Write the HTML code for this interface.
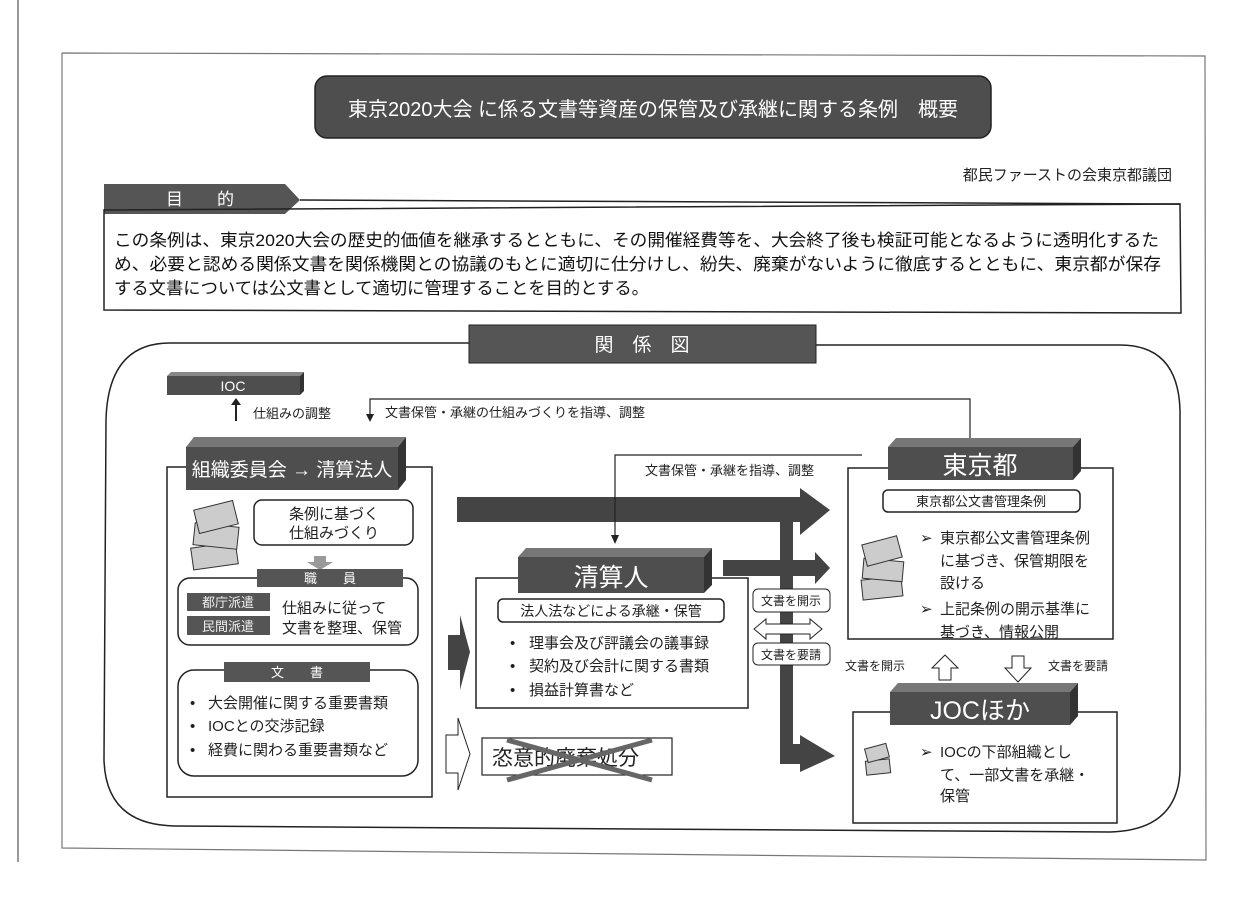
<!DOCTYPE html>
<html><head><meta charset="utf-8"><style>
body{margin:0;background:#fff;}
svg{display:block;font-family:"Liberation Sans","Noto Sans CJK JP",sans-serif;}
</style></head><body>
<svg width="1240" height="904" viewBox="0 0 1240 904" xmlns="http://www.w3.org/2000/svg">
<rect width="1240" height="904" fill="#fff"/>
<line x1="18" y1="0" x2="18" y2="862" stroke="#999" stroke-width="2"/>
<polyline points="62,53 1205,56 1206,860 62,848 62,53" fill="none" stroke="#777" stroke-width="1.2"/>
<rect x="315" y="76" width="676" height="62" rx="12" fill="#4e4e4e" stroke="#222" stroke-width="1.5"/>
<text x="653" y="116" font-size="20" fill="#fff" text-anchor="middle">東京2020大会 に係る文書等資産の保管及び承継に関する条例　概要</text>
<text x="1172" y="180" font-size="15" fill="#222" text-anchor="end">都民ファーストの会東京都議団</text>
<polygon points="104,184 285,184 300,200 285,214 104,214" fill="#555"/>
<text x="200" y="205" font-size="17" fill="#fff" text-anchor="middle">目　　的</text>
<line x1="300" y1="200" x2="1180" y2="204" stroke="#222" stroke-width="1.5"/>
<polygon points="104,210 1180,204 1181,313 104,310" fill="none" stroke="#222" stroke-width="1.5"/>
<text x="114" y="246" font-size="17" fill="#111" textLength="1045" lengthAdjust="spacingAndGlyphs">この条例は、東京2020大会の歴史的価値を継承するとともに、その開催経費等を、大会終了後も検証可能となるように透明化するた</text>
<text x="114" y="270" font-size="17" fill="#111" textLength="1047" lengthAdjust="spacingAndGlyphs">め、必要と認める関係文書を関係機関との協議のもとに適切に仕分けし、紛失、廃棄がないように徹底するとともに、東京都が保存</text>
<text x="114" y="294" font-size="17" fill="#111" textLength="535" lengthAdjust="spacingAndGlyphs">する文書については公文書として適切に管理することを目的とする。</text>
<path d="M470,343 L170,343 Q108,343 106,420 L104,760 Q106,825 175,826 L1110,832 Q1178,830 1180,770 L1180,410 Q1178,345 1120,345 L816,345" fill="none" stroke="#222" stroke-width="1.5"/>
<rect x="469" y="325" width="347" height="38" fill="#555" stroke="#222"/>
<text x="642" y="351" font-size="19" fill="#fff" text-anchor="middle">関　係　図</text>
<polygon points="167,376 171,372 304,372 300,376" fill="#888"/>
<polygon points="300,376 304,372 304,391 300,395" fill="#333"/>
<rect x="167" y="376" width="133" height="19" fill="#4e4e4e"/>
<text x="233" y="391" font-size="14" fill="#fff" text-anchor="middle">IOC</text>
<line x1="236" y1="421" x2="236" y2="404" stroke="#222" stroke-width="2"/>
<polygon points="231,405 241,405 236,398" fill="#222"/>
<text x="253" y="418" font-size="13" fill="#222">仕組みの調整</text>
<polyline points="370,420 370,399 970,399 970,440" fill="none" stroke="#222" stroke-width="1.2"/>
<polygon points="366,414 374,414 370,422" fill="#222"/>
<text x="385" y="417" font-size="13" fill="#222">文書保管・承継の仕組みづくりを指導、調整</text>
<rect x="167" y="467" width="265" height="330" fill="none" stroke="#222" stroke-width="1.5"/>
<polygon points="186,447 194,437 406,437 398,447" fill="#777"/>
<polygon points="398,447 406,437 406,480 398,490" fill="#333"/>
<rect x="186" y="447" width="212" height="43" fill="#4e4e4e"/>
<text x="292" y="476" font-size="19" fill="#fff" text-anchor="middle">組織委員会 → 清算法人</text>
<g fill="#ccc" stroke="#333" stroke-width="1">
<rect x="192" y="545" width="45" height="22" transform="rotate(-8 214 556)"/>
<rect x="194" y="525" width="44" height="22" transform="rotate(6 216 536)"/>
<rect x="196" y="505" width="40" height="24" transform="rotate(-14 216 517)"/>
</g>
<rect x="254" y="500" width="159" height="45" rx="8" fill="#fff" stroke="#222" stroke-width="1.5"/>
<text x="334" y="519" font-size="15" fill="#222" text-anchor="middle">条例に基づく</text>
<text x="334" y="538" font-size="15" fill="#222" text-anchor="middle">仕組みづくり</text>
<polygon points="314,556 326,556 326,562 333,562 320,570 307,562 314,562" fill="#999"/>
<rect x="178" y="578" width="240" height="67" rx="12" fill="#fff" stroke="#222" stroke-width="1.5"/>
<rect x="257" y="569" width="146" height="18" fill="#555"/>
<text x="330" y="583" font-size="13" fill="#fff" text-anchor="middle">職　　員</text>
<rect x="187" y="593" width="83" height="18" fill="#555"/>
<text x="228" y="607" font-size="13" fill="#eee" text-anchor="middle">都庁派遣</text>
<rect x="187" y="616" width="83" height="19" fill="#555"/>
<text x="228" y="631" font-size="13" fill="#eee" text-anchor="middle">民間派遣</text>
<text x="282" y="613" font-size="15" fill="#222">仕組みに従って</text>
<text x="282" y="633" font-size="15" fill="#222">文書を整理、保管</text>
<rect x="178" y="670" width="240" height="106" rx="16" fill="#fff" stroke="#222" stroke-width="1.5"/>
<rect x="224" y="662" width="146" height="20" fill="#555"/>
<text x="297" y="677" font-size="13" fill="#fff" text-anchor="middle">文　　書</text>
<g font-size="15" fill="#222">
<text x="190" y="708">•</text><text x="208" y="708">大会開催に関する重要書類</text>
<text x="190" y="731">•</text><text x="208" y="731">IOCとの交渉記録</text>
<text x="190" y="755">•</text><text x="208" y="755">経費に関わる重要書類など</text>
</g>
<polygon points="457,497 800,497 800,488 830,510 800,535 800,522 457,522" fill="#444"/>
<polyline points="615,540 615,455 862,455" fill="none" stroke="#222" stroke-width="1.2"/>
<polygon points="611,535 619,535 615,544" fill="#222"/>
<text x="645" y="475" font-size="13" fill="#222">文書保管・承継を指導、調整</text>
<polygon points="780,522 793,522 793,744 800,744 800,735 835,756 800,772 800,764 780,764" fill="#444"/>
<polygon points="723,560 815,560 815,552 830,568 815,584 815,576 723,576" fill="#444"/>
<polygon points="448,635 460,635 460,615 470,652 460,690 460,670 448,670" fill="#444"/>
<polygon points="446,735 458,735 458,718 470,754 458,790 458,773 446,773" fill="#fff" stroke="#222"/>
<rect x="476" y="578" width="272" height="130" fill="#fff" stroke="#222" stroke-width="1.5"/>
<polygon points="518,557 526,548 712,548 704,557" fill="#777"/>
<polygon points="704,557 712,548 712,585 704,593" fill="#333"/>
<rect x="518" y="557" width="186" height="36" fill="#4e4e4e"/>
<text x="611" y="586" font-size="25" fill="#fff" text-anchor="middle">清算人</text>
<rect x="498" y="599" width="226" height="23" rx="5" fill="#fff" stroke="#222" stroke-width="1.5"/>
<text x="611" y="616" font-size="14" fill="#222" text-anchor="middle">法人法などによる承継・保管</text>
<g font-size="15" fill="#222">
<text x="510" y="648">•</text><text x="529" y="648">理事会及び評議会の議事録</text>
<text x="510" y="671">•</text><text x="529" y="671">契約及び会計に関する書類</text>
<text x="510" y="695">•</text><text x="529" y="695">損益計算書など</text>
</g>
<rect x="482" y="738" width="190" height="37" fill="#fff" stroke="#222" stroke-width="1.2"/>
<text x="492" y="765" font-size="21" fill="#222">恣意的廃棄処分</text>
<line x1="507" y1="740" x2="652" y2="780" stroke="#666" stroke-width="5"/>
<line x1="507" y1="780" x2="652" y2="740" stroke="#666" stroke-width="5"/>
<rect x="753" y="589" width="77" height="23" rx="5" fill="#fff" stroke="#222"/>
<text x="791" y="605" font-size="12" fill="#222" text-anchor="middle">文書を開示</text>
<polygon points="754,629 766,619 766,624 810,624 810,619 822,629 810,639 810,634 766,634 766,639" fill="#fff" stroke="#222"/>
<rect x="753" y="643" width="77" height="22" rx="5" fill="#fff" stroke="#222"/>
<text x="791" y="659" font-size="12" fill="#222" text-anchor="middle">文書を要請</text>
<rect x="848" y="468" width="265" height="171" fill="#fff" stroke="#222" stroke-width="1.5"/>
<polygon points="888,447 896,438 1081,438 1073,447" fill="#777"/>
<polygon points="1073,447 1081,438 1081,471 1073,480" fill="#333"/>
<rect x="888" y="447" width="185" height="33" fill="#4e4e4e"/>
<text x="980" y="474" font-size="25" fill="#fff" text-anchor="middle">東京都</text>
<rect x="883" y="490" width="197" height="22" rx="5" fill="#fff" stroke="#222" stroke-width="1.5"/>
<text x="981" y="506" font-size="13" fill="#222" text-anchor="middle">東京都公文書管理条例</text>
<g fill="#ccc" stroke="#333" stroke-width="1">
<rect x="862" y="578" width="40" height="20" transform="rotate(-6 882 588)"/>
<rect x="863" y="560" width="40" height="20" transform="rotate(5 883 570)"/>
<rect x="864" y="540" width="36" height="22" transform="rotate(-15 882 551)"/>
</g>
<g font-size="15" fill="#222">
<text x="920" y="543">➢</text><text x="940" y="543">東京都公文書管理条例</text>
<text x="940" y="566">に基づき、保管期限を</text>
<text x="940" y="588">設ける</text>
<text x="920" y="614">➢</text><text x="940" y="614">上記条例の開示基準に</text>
<text x="940" y="637">基づき、情報公開</text>
</g>
<text x="845" y="670" font-size="12" fill="#222">文書を開示</text>
<polygon points="945,655 958,668 951,668 951,680 939,680 939,668 932,668" fill="#fff" stroke="#222"/>
<polygon points="1012,656 1024,656 1024,668 1031,668 1018,682 1005,668 1012,668" fill="#fff" stroke="#222"/>
<text x="1048" y="670" font-size="12" fill="#222">文書を要請</text>
<rect x="853" y="712" width="264" height="111" fill="#fff" stroke="#222" stroke-width="1.5"/>
<polygon points="890,692 898,683 1078,683 1070,692" fill="#777"/>
<polygon points="1070,692 1078,683 1078,716 1070,725" fill="#333"/>
<rect x="890" y="692" width="180" height="33" fill="#4e4e4e"/>
<text x="980" y="719" font-size="25" fill="#fff" text-anchor="middle">JOCほか</text>
<g fill="#ccc" stroke="#333" stroke-width="1">
<rect x="866" y="760" width="24" height="14" transform="rotate(-6 878 767)"/>
<rect x="866" y="746" width="22" height="14" transform="rotate(-15 877 753)"/>
</g>
<g font-size="15" fill="#222">
<text x="920" y="757">➢</text><text x="940" y="757">IOCの下部組織とし</text>
<text x="940" y="780">て、一部文書を承継・</text>
<text x="940" y="801">保管</text>
</g>
</svg>
</body></html>
